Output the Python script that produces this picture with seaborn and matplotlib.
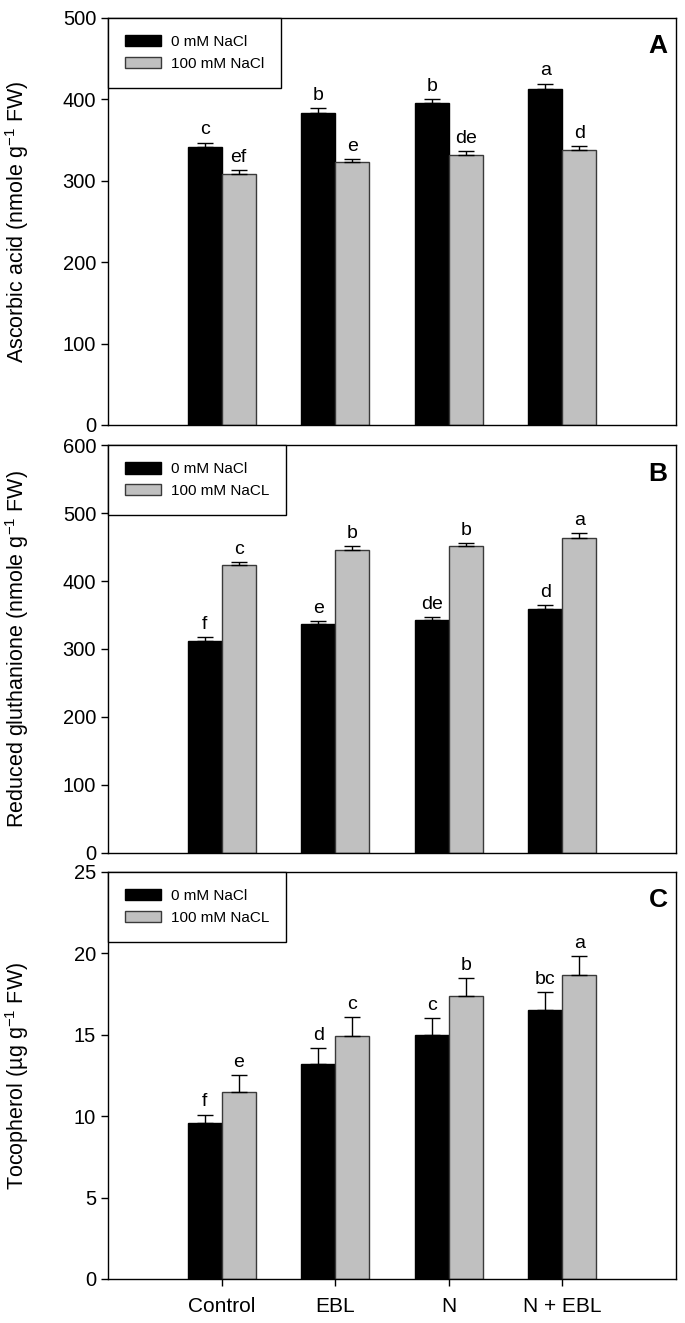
import matplotlib
matplotlib.use("Agg")
import matplotlib.pyplot as plt
import seaborn as sns
import pandas as pd

# treatments and salt levels
treatments = ["Control", "EBL", "N", "N + EBL"]
salt_levels = ["0 mM", "100 mM"]

# panel A - ascorbic acid
asa_0 = [342, 383, 396, 413]
asa_100 = [308, 323, 332, 338]
asa_se_0 = [5, 6, 5, 6.5]
asa_se_100 = [5, 4, 4, 5]
asa_letters_0 = ["c", "b", "b", "a"]
asa_letters_100 = ["ef", "e", "de", "d"]

# panel B - reduced glutathione
gsh_0 = [312, 337, 343, 359]
gsh_100 = [423, 446, 452, 464]
gsh_se_0 = [5, 4, 4.5, 5.5]
gsh_se_100 = [5, 5, 4, 6]
gsh_letters_0 = ["f", "e", "de", "d"]
gsh_letters_100 = ["c", "b", "b", "a"]

# panel C - tocopherol
toc_0 = [9.6, 13.2, 15.0, 16.5]
toc_100 = [11.5, 14.9, 17.4, 18.7]
toc_se_0 = [0.5, 1.0, 1.05, 1.1]
toc_se_100 = [1.0, 1.2, 1.1, 1.15]
toc_letters_0 = ["f", "d", "c", "bc"]
toc_letters_100 = ["e", "c", "b", "a"]

sns.set_style("ticks")
plt.rcParams["font.family"] = ["Liberation Sans", "DejaVu Sans"]
plt.rcParams["mathtext.default"] = "regular"
for key in ["text.color", "axes.labelcolor", "xtick.color", "ytick.color", "axes.edgecolor"]:
    plt.rcParams[key] = "black"

bar_colors = ["#000000", "#c0c0c0"]
edge_colors = ["#000000", "#3a3a3a"]

panels = [
    dict(v0=asa_0, v1=asa_100, s0=asa_se_0, s1=asa_se_100, l0=asa_letters_0, l1=asa_letters_100,
         ylim=500, step=100, tag="A", leg=["0 mM NaCl", "100 mM NaCl"],
         ylabel="Ascorbic acid (nmole g$^{-1}$ FW)", off=5),
    dict(v0=gsh_0, v1=gsh_100, s0=gsh_se_0, s1=gsh_se_100, l0=gsh_letters_0, l1=gsh_letters_100,
         ylim=600, step=100, tag="B", leg=["0 mM NaCl", "100 mM NaCL"],
         ylabel="Reduced gluthanione (nmole g$^{-1}$ FW)", off=6),
    dict(v0=toc_0, v1=toc_100, s0=toc_se_0, s1=toc_se_100, l0=toc_letters_0, l1=toc_letters_100,
         ylim=25, step=5, tag="C", leg=["0 mM NaCl", "100 mM NaCL"],
         ylabel="Tocopherol (µg g$^{-1}$ FW)", off=0.25),
]

fig = plt.figure(figsize=(6.85, 13.23), dpi=100)
boxes = [(0.6788, 0.9864), (0.3553, 0.6636), (0.0333, 0.3409)]
left, right = 108 / 685, 676 / 685

for i, p in enumerate(panels):
    bottom, top = boxes[i]
    ax = fig.add_axes([left, bottom, right - left, top - bottom])

    df = pd.DataFrame({
        "treatment": treatments * 2,
        "salt": [salt_levels[0]] * 4 + [salt_levels[1]] * 4,
        "value": p["v0"] + p["v1"],
    })
    sns.barplot(data=df, x="treatment", y="value", hue="salt", order=treatments,
                hue_order=salt_levels, palette=bar_colors, width=0.6,
                errorbar=None, legend=False, ax=ax)

    ses = [p["s0"], p["s1"]]
    letters = [p["l0"], p["l1"]]
    handles = []
    bar_conts = list(ax.containers)
    for k, cont in enumerate(bar_conts):
        xs, hs = [], []
        for bar in cont.patches:
            bar.set_edgecolor(edge_colors[k])
            bar.set_linewidth(1.0)
            xs.append(bar.get_x() + bar.get_width() / 2)
            hs.append(bar.get_height())
        handles.append(cont.patches[0])
        ax.errorbar(xs, hs, yerr=[[0] * len(hs), ses[k]], fmt="none",
                    ecolor="black", elinewidth=1.0, capsize=6, capthick=1.0)
        for x, h, s, t in zip(xs, hs, ses[k], letters[k]):
            ax.text(x, h + s + p["off"], t, ha="center", va="bottom", fontsize=14)

    ax.set_xlim(-1, 4)
    ax.set_ylim(0, p["ylim"])
    ax.set_yticks(range(0, p["ylim"] + 1, p["step"]))
    ax.tick_params(axis="y", labelsize=14.5, length=5, width=1, direction="out")
    for sp in ax.spines.values():
        sp.set_visible(True)
        sp.set_color("black")
        sp.set_linewidth(1.0)

    if i < 2:
        ax.set_xticks([])
        ax.set_xlabel("")
    else:
        ax.tick_params(axis="x", labelsize=15, length=5, width=1, direction="out", pad=8)
        ax.set_xlabel("")

    ax.set_ylabel(p["ylabel"], fontsize=15.5)
    ax.yaxis.set_label_coords(-0.135, 0.5)

    leg = ax.legend(handles, p["leg"], loc="upper left", bbox_to_anchor=(0, 1),
                    borderaxespad=0, fancybox=False, edgecolor="black", framealpha=1,
                    fontsize=11, handlelength=2.4, handleheight=0.8, handletextpad=0.6,
                    labelspacing=0.5, borderpad=1.1)
    leg.get_frame().set_linewidth(1.0)

    ax.text(0.985, 0.93, p["tag"], transform=ax.transAxes, ha="right", va="center",
            fontsize=19, fontweight="bold")

fig.savefig("out.png", dpi=100)
